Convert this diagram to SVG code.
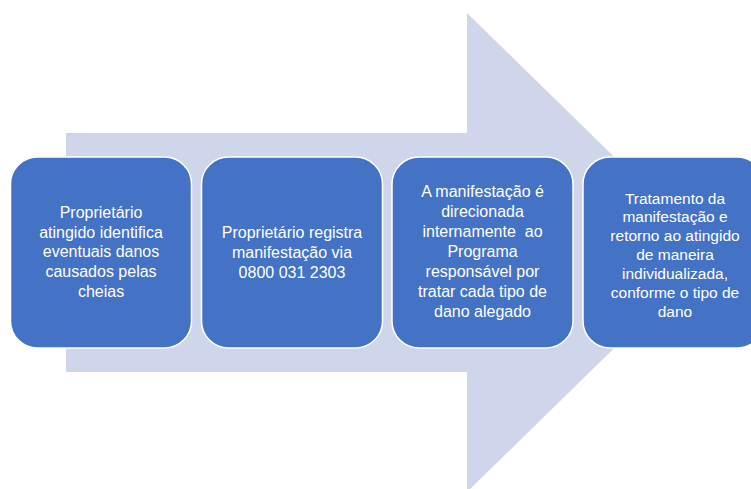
<svg xmlns="http://www.w3.org/2000/svg" width="751" height="489" viewBox="0 0 751 489">
<style>
.box{fill:#4472C4;stroke:#FFFFFF;stroke-width:1.5}
.t{font-family:"Liberation Sans",Arial,sans-serif;font-size:16px;fill:#FFFFFF;text-anchor:middle;white-space:pre}
.t4{font-size:15.5px}
</style>
<rect width="751" height="489" fill="#FFFFFF"/>
<g id="arrow">
<polygon points="66,133 467,133 467,13 712,252.5 467,492 467,372 66,372" fill="#CFD5EA"/>
</g>
<g id="node1">
<rect class="box" x="10.5" y="157" width="181" height="191" rx="27"/>
<text class="t" y="218"><tspan x="101">Proprietário</tspan><tspan x="101" dy="19.7">atingido identifica</tspan><tspan x="101" dy="19.7">eventuais danos</tspan><tspan x="101" dy="19.7">causados pelas</tspan><tspan x="101" dy="19.7">cheias</tspan></text>
</g>
<g id="node2">
<rect class="box" x="201.5" y="157" width="181" height="191" rx="27"/>
<text class="t" y="238"><tspan x="292">Proprietário registra</tspan><tspan x="292" dy="20">manifestação via</tspan><tspan x="292" dy="20">0800 031 2303</tspan></text>
</g>
<g id="node3">
<rect class="box" x="392" y="157" width="181" height="191" rx="27"/>
<text class="t" y="197.3"><tspan x="482.5">A manifestação é</tspan><tspan x="482.5" dy="19.9">direcionada</tspan><tspan x="482.5" dy="19.9">internamente  ao</tspan><tspan x="482.5" dy="19.9">Programa</tspan><tspan x="482.5" dy="19.9">responsável por</tspan><tspan x="482.5" dy="19.9">tratar cada tipo de</tspan><tspan x="482.5" dy="19.9">dano alegado</tspan></text>
</g>
<g id="node4">
<rect class="box" x="583" y="157" width="181" height="191" rx="27"/>
<text class="t t4" y="203.5"><tspan x="675">Tratamento da</tspan><tspan x="675" dy="18.9">manifestação e</tspan><tspan x="675" dy="18.9">retorno ao atingido</tspan><tspan x="675" dy="18.9">de maneira</tspan><tspan x="675" dy="18.9">individualizada,</tspan><tspan x="675" dy="18.9">conforme o tipo de</tspan><tspan x="675" dy="18.9">dano</tspan></text>
</g>
<g id="connectors"></g>
</svg>
